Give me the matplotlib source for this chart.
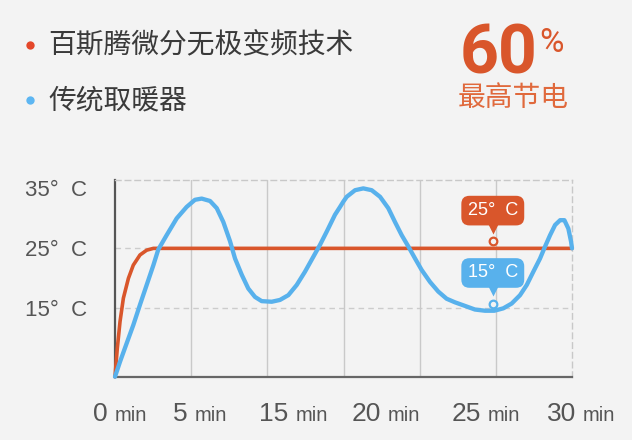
import matplotlib
matplotlib.use("Agg")
import matplotlib.pyplot as plt
from matplotlib.lines import Line2D
from matplotlib.transforms import offset_copy

# ---------------- data ----------------
orange_x = [0, 0.15, 0.33, 0.55, 0.88, 1.2, 1.64, 2.08, 2.52, 30]
orange_y = [3.6, 8.3, 12.8, 16.7, 20.0, 22.2, 23.9, 24.7, 25.0, 25.0]

blue_x = [0, 0.33, 0.77, 1.20, 1.64, 2.08, 2.52, 2.84, 3.39, 4.05, 4.70, 5.25,
          5.69, 6.24, 6.68, 7.11, 7.55, 7.88, 8.32, 8.75, 9.19, 9.63, 10.29,
          10.83, 11.38, 11.93, 12.47, 13.02, 13.46, 13.90, 14.44, 14.77, 14.99,
          15.21, 15.76, 16.30, 16.85, 17.40, 17.94, 18.38, 18.82, 19.26, 19.70,
          20.13, 20.68, 21.22, 21.77, 22.32, 22.98, 23.63, 24.29, 24.90, 25.49,
          26.04, 26.59, 27.03, 27.46, 27.90, 28.23, 28.56, 28.89, 29.22, 29.50,
          29.76, 29.94, 30.0]
blue_y = [3.6, 6.1, 9.2, 12.2, 15.6, 18.9, 22.2, 24.8, 27.2, 30.0, 31.9, 33.1,
          33.3, 32.9, 31.7, 29.4, 26.2, 23.3, 20.6, 18.3, 16.9, 16.2, 16.1,
          16.4, 17.2, 18.9, 21.1, 23.6, 25.6, 27.8, 30.6, 31.9, 32.8,
          33.6, 34.7, 35.0, 34.7, 33.6, 31.7, 29.4, 27.2, 25.3, 23.3,
          21.4, 19.4, 17.8, 16.6, 16.0, 15.4, 14.8, 14.6, 14.6, 15.0,
          15.8, 17.2, 18.9, 21.1, 23.3, 25.3, 27.2, 28.9, 29.7, 29.7,
          28.3, 26.1, 25.0]

series_names = ["百斯腾微分无极变频技术", "传统取暖器"]

y_ticks = [35, 25, 15]
y_tick_labels = ["35°  C", "25°  C", "15°  C"]
grid_y = [25, 15]
grid_x = [5, 10, 15, 20, 25]

x_label_nums = ["0", "5", "15", "20", "25", "30"]
x_label_pos = [-0.23, 4.99, 11.62, 17.69, 24.26, 30.49]

callout_x = [24.8, 24.8]
callout_y = [26.2, 15.8]
callout_labels = ["25°  C", "15°  C"]

big_value = "60"
big_unit = "%"
big_caption = "最高节电"

# ---------------- style ----------------
BG = "#f3f3f3"
ORANGE = "#d9562b"
BLUE = "#58b1ec"
DOT_ORANGE = "#e4472a"
DOT_BLUE = "#5db6f2"
TXT = "#555555"

plt.rcParams["font.family"] = ["Liberation Sans", "Noto Sans CJK SC", "DejaVu Sans"]

fig = plt.figure(figsize=(6.32, 4.40), dpi=100, facecolor=BG)
ax = fig.add_axes([115 / 632, 1 - 376.7 / 440, 457 / 632, (376.7 - 180) / 440])
ax.set_facecolor(BG)
ax.set_xlim(0, 30)
ax.set_ylim(3.6, 36.4)

# grid
ax.set_xticks(grid_x)
ax.set_xticklabels([])
ax.xaxis.grid(True, color="#c9c9c9", lw=1.0, ls="-")
ax.tick_params(axis="x", length=0)
for gy in grid_y:
    ax.axhline(gy, color="#cccccc", lw=1.0, ls=(0, (4, 3)), zorder=0.5)

ax.set_yticks(y_ticks)
ax.set_yticklabels(y_tick_labels, fontsize=16, color=TXT)
ax.tick_params(axis="y", length=0, pad=20)

for s in ["top", "right"]:
    ax.spines[s].set_color("#c8c8c8")
    ax.spines[s].set_linestyle((0, (4, 3)))
    ax.spines[s].set_linewidth(1.0)
ax.spines["left"].set_color("#555555")
ax.spines["left"].set_linewidth(1.6)
ax.spines["bottom"].set_color("#666666")
ax.spines["bottom"].set_linewidth(1.6)

# lines
ax.plot(orange_x, orange_y, color=ORANGE, lw=2.6, solid_joinstyle="round",
        solid_capstyle="round", zorder=3, clip_on=False)
ax.plot(blue_x, blue_y, color=BLUE, lw=3.1, solid_joinstyle="round",
        solid_capstyle="round", zorder=4, clip_on=False)

# callouts
colors = [ORANGE, BLUE]
for cx, cy, lab, c in zip(callout_x, callout_y, callout_labels, colors):
    ax.plot([cx], [cy], marker="o", ms=5.5, mfc=BG, mec=c, mew=1.6, zorder=6)
    tr = offset_copy(ax.transData, fig=fig, x=0, y=9, units="points")
    ax.plot([cx], [cy], marker="v", ms=6.5, color=c, mec="none",
            transform=tr, zorder=6)
    ax.annotate(lab, xy=(cx, cy), xytext=(0, 22), textcoords="offset points",
                ha="center", va="center", color="white", fontsize=13, zorder=7,
                bbox=dict(boxstyle="round,pad=0.35,rounding_size=0.45",
                          fc=c, ec="none"))

# x labels
for num, xp in zip(x_label_nums, x_label_pos):
    ax.annotate(num, xy=(xp, 0), xycoords=("data", "axes fraction"),
                xytext=(-2.5, -32), textcoords="offset points",
                ha="right", va="baseline", fontsize=19, color=TXT,
                annotation_clip=False)
    ax.annotate("min", xy=(xp, 0), xycoords=("data", "axes fraction"),
                xytext=(2.5, -32), textcoords="offset points",
                ha="left", va="baseline", fontsize=14.5, color=TXT,
                annotation_clip=False)

# legend
for (name, dc, yy) in zip(series_names, [DOT_ORANGE, DOT_BLUE], [45, 100]):
    fig.add_artist(Line2D([30 / 632], [1 - yy / 440], marker="o", ms=6,
                          color=dc, mec="none", transform=fig.transFigure))
    fig.text(48 / 632, 1 - yy / 440, name, fontsize=20, color="#3a3a3a",
             ha="left", va="center", family=["Noto Sans CJK SC", "DejaVu Sans"])

# big number
fig.text(460 / 632, 1 - 73 / 440, big_value, fontsize=49, color=ORANGE,
         fontweight="bold", family=["Roboto", "DejaVu Sans"],
         ha="left", va="baseline")
fig.text(539 / 632, 1 - 52 / 440, big_unit, fontsize=24, color=ORANGE,
         family=["Roboto", "DejaVu Sans"],
         ha="left", va="baseline")
fig.text(513 / 632, 1 - 98.5 / 440, big_caption, fontsize=20, color="#e0693c",
         ha="center", va="center", family=["Noto Sans CJK SC", "DejaVu Sans"])

fig.savefig("out.png", dpi=100, facecolor=BG)
